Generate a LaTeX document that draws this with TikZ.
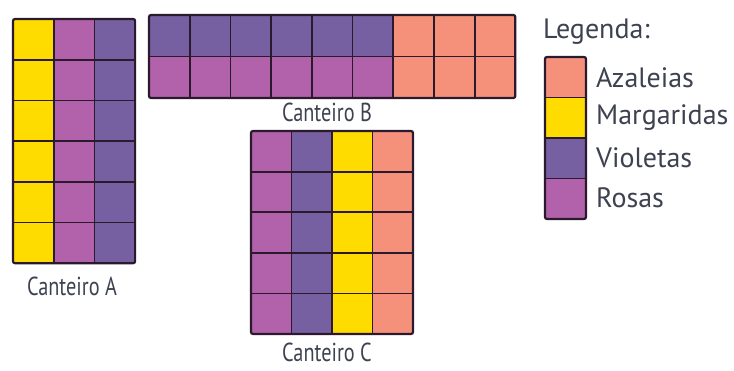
\documentclass[tikz,border=0pt]{standalone}
\usepackage{fontspec}
\setmainfont{PT Sans}
\definecolor{amarelo}{HTML}{FFDC00}
\definecolor{rosa}{HTML}{B262AA}
\definecolor{violeta}{HTML}{7660A2}
\definecolor{azaleia}{HTML}{F5917A}
\definecolor{borda}{HTML}{2B1A2E}
\definecolor{texto}{HTML}{3E4250}
\tikzset{
  cell/.style={draw=borda,line width=1.8pt},
  outer/.style={draw=borda,line width=2.2pt,rounded corners=2pt},
  lbl/.style={font=\fontsize{28}{30}\selectfont,text=texto,anchor=west,inner sep=0pt},
  rotulo/.style={font=\fontsize{26}{30}\selectfont,text=texto,xscale=0.78,inner sep=0pt,anchor=base,text depth=0pt}
}
\begin{document}
\begin{tikzpicture}[x=1pt,y=-1pt]
\useasboundingbox (0,0) rectangle (734,370);
% Canteiro A
\foreach \c/\col in {0/amarelo,1/rosa,2/violeta}{
  \foreach \r in {0,...,5}{
    \fill[\col] (13+40.7*\c,19+40.7*\r) rectangle ++(40.7,40.7);
  }
}
\foreach \c in {1,2} \draw[cell] (13+40.7*\c,19) -- ++(0,244.2);
\foreach \r in {1,...,5} \draw[cell] (13,19+40.7*\r) -- ++(122.1,0);
\draw[outer] (13,19) rectangle (135.1,263.2);
\node[rotulo] (ca) at (72,295) {Canteiro A};
% Canteiro B
\foreach \c in {0,...,8}{
  \ifnum\c<6
    \fill[violeta] (149+40.7*\c,15) rectangle ++(40.7,41.5);
    \fill[rosa] (149+40.7*\c,56.5) rectangle ++(40.7,41.5);
  \else
    \fill[azaleia] (149+40.7*\c,15) rectangle ++(40.7,83);
  \fi
}
\foreach \c in {1,...,8} \draw[cell] (149+40.7*\c,15) -- ++(0,83);
\draw[cell] (149,56.5) -- ++(366.3,0);
\draw[outer] (149,15) rectangle (515.3,98);
\node[rotulo] (cb) at (327,121) {Canteiro B};
% Canteiro C
\foreach \c/\col in {0/rosa,1/violeta,2/amarelo,3/azaleia}{
  \fill[\col] (251+40.5*\c,131) rectangle ++(40.5,203);
}
\foreach \c in {1,2,3} \draw[cell] (251+40.5*\c,131) -- ++(0,203);
\foreach \r in {1,...,4} \draw[cell] (251,131+40.6*\r) -- ++(162,0);
\draw[outer] (251,131) rectangle (413,334);
\node[rotulo] (cc) at (327,361) {Canteiro C};
% Legenda
\node[lbl] (leg) at (543,32) {Legenda:};
\foreach \i/\col/\t in {0/azaleia/Azaleias,1/amarelo/Margaridas,2/violeta/Violetas,3/rosa/Rosas}{
  \fill[\col] (545,57+40.5*\i) rectangle ++(41,40.5);
  \node[lbl] (l\i) at (596,78+40*\i) {\t};
}
\foreach \i in {1,2,3} \draw[cell] (545,57+40.5*\i) -- ++(41,0);
\draw[outer] (545,57) rectangle (586,219);
\end{tikzpicture}
\end{document}
